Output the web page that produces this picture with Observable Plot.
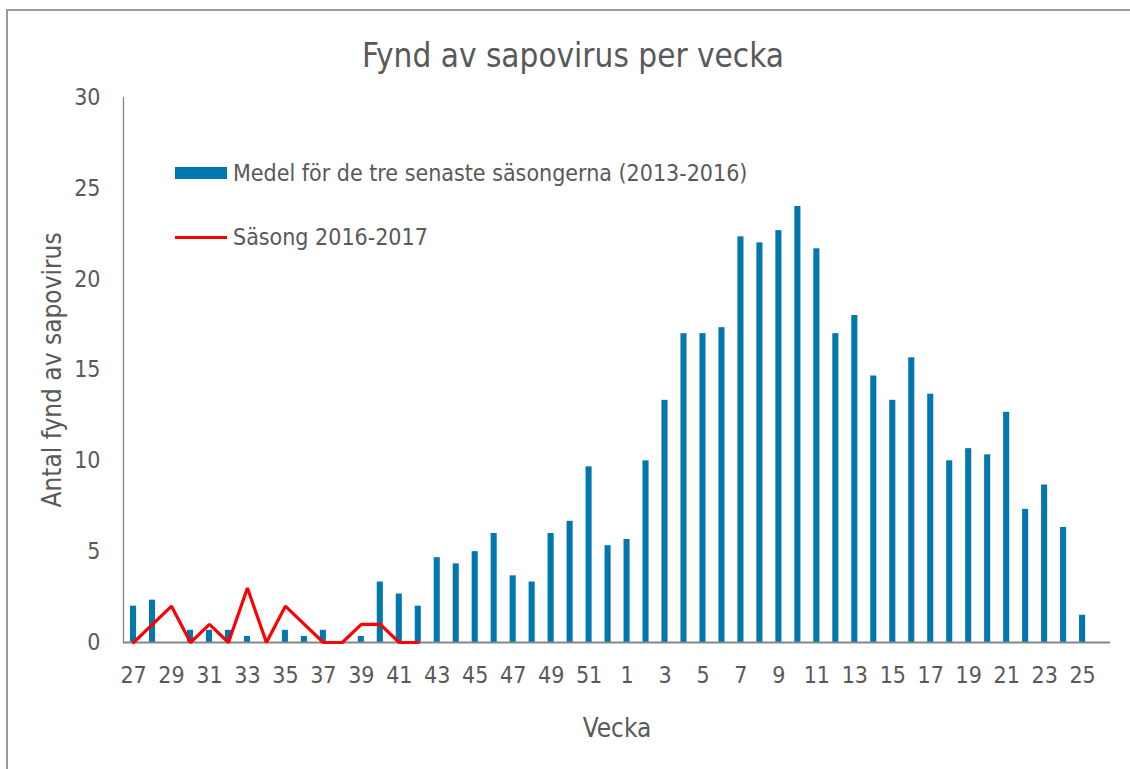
<!DOCTYPE html>
<html>
<head>
<meta charset="utf-8">
<script src="https://cdn.jsdelivr.net/npm/d3@7"></script>
<script src="https://cdn.jsdelivr.net/npm/@observablehq/plot@0.6"></script>
<style>
  html, body { margin: 0; padding: 0; background: #fff; overflow: hidden; }
  #wrap { position: relative; width: 1130px; height: 769px; font-family: "DejaVu Sans Condensed", "DejaVu Sans", sans-serif; color: #595959; }
  #border { position: absolute; left: 6px; top: 9px; width: 1200px; height: 800px; border: 2px solid #9a9a9a; box-sizing: border-box; }
  #title { position: absolute; left: 0; top: 34px; width: 1146px; text-align: center; font-size: 33px; line-height: 44px; }
  .leg { position: absolute; left: 175px; font-size: 23px; line-height: 28px; display: flex; align-items: center; white-space: nowrap; }
  .sw { display: inline-block; width: 52px; margin-right: 6px; }
  #chart { position: absolute; left: 0; top: 0; }
</style>
</head>
<body>
<div id="wrap">
  <div id="border"></div>
  <div id="chart"></div>
  <div id="title">Fynd av sapovirus per vecka</div>
  <div class="leg" style="top:159px"><span class="sw" style="height:12px;background:#0077ae"></span><span id="l1"></span></div>
  <div class="leg" style="top:223px"><span class="sw" style="height:3px;background:#ff0000"></span><span id="l2"></span></div>
</div>
<script>
const weeks = ["27","28","29","30","31","32","33","34","35","36","37","38","39","40","41","42","43","44","45","46","47","48","49","50","51","52",
  "1","2","3","4","5","6","7","8","9","10","11","12","13","14","15","16","17","18","19","20","21","22","23","24","25"];
const averageValues = [2.0,2.33,0,0.67,0.67,0.67,0.33,0,0.67,0.33,0.67,0,0.33,3.33,2.67,2.0,4.67,4.33,5.0,6.0,3.67,3.33,6.0,6.67,9.67,5.33,
  5.67,10.0,13.33,17.0,17.0,17.33,22.33,22.0,22.67,24.0,21.67,17.0,18.0,14.67,13.33,15.67,13.67,10.0,10.67,10.33,12.67,7.33,8.67,6.33,1.5];
const seasonWeeks = ["27","28","29","30","31","32","33","34","35","36","37","38","39","40","41","42"];
const seasonValues = [0,1,2,0,1,0,3,0,2,1,0,0,1,1,0,0];
const xTickLabels = ["27","29","31","33","35","37","39","41","43","45","47","49","51","1","3","5","7","9","11","13","15","17","19","21","23","25"];
const yTicks = [0,5,10,15,20,25,30];
const seriesNames = ["Medel för de tre senaste säsongerna (2013-2016)", "Säsong 2016-2017"];
const title = "Fynd av sapovirus per vecka";
const xLabel = "Vecka";
const yLabel = "Antal fynd av sapovirus";

document.getElementById("title").textContent = title;
document.getElementById("l1").textContent = seriesNames[0];
document.getElementById("l2").textContent = seriesNames[1];

const barData = weeks.map((w, i) => ({week: w, value: averageValues[i]}));
const lineData = seasonWeeks.map((w, i) => ({week: w, value: seasonValues[i]}));

const chart = Plot.plot({
  width: 1130,
  height: 769,
  marginLeft: 123,
  marginRight: 20,
  marginTop: 97,
  marginBottom: 127,
  style: {fontFamily: '"DejaVu Sans Condensed", "DejaVu Sans", sans-serif', color: "#595959", background: "transparent"},
  x: {type: "band", domain: weeks, paddingInner: 0.68, paddingOuter: 0.84, align: 0.22},
  y: {domain: [0, 30]},
  marks: [
    Plot.barY(barData, {x: "week", y: "value", fill: "#0077ae"}),
    Plot.frame({anchor: "left", stroke: "#868686", strokeWidth: 1.3}),
    Plot.ruleY([0], {stroke: "#868686", strokeWidth: 2}),
    Plot.lineY(lineData, {x: "week", y: "value", stroke: "#ff0000", strokeWidth: 3.2, strokeLinejoin: "miter"}),
    Plot.axisY({ticks: yTicks, tickSize: 0, tickPadding: 23, fontSize: 23, label: null, fill: "#595959"}),
    Plot.axisX({ticks: xTickLabels, tickSize: 0, tickPadding: 24, fontSize: 23, label: null, fill: "#595959"}),
    Plot.text([xLabel], {frameAnchor: "bottom", dy: 86, fontSize: 26, fill: "#595959", lineAnchor: "middle", textAnchor: "middle"}),
    Plot.text([yLabel], {frameAnchor: "left", dx: -71, rotate: -90, fontSize: 26, fill: "#595959", lineAnchor: "middle", textAnchor: "middle"})
  ]
});
document.getElementById("chart").appendChild(chart);
</script>
</body>
</html>
